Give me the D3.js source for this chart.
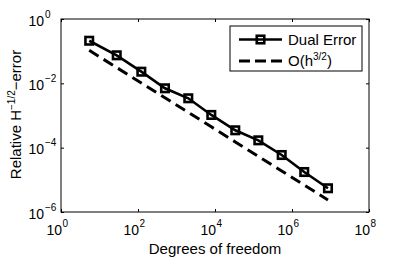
<html lang="en">
  <head>
    <meta charset="utf-8">
    <title>Dual error convergence</title>
    <script src="https://d3js.org/d3.v7.min.js"></script>
    <style>
      body { margin: 0; background: #fff; overflow: hidden; }
      svg { display: block; }
      text { font-family: "Liberation Sans", Arial, Helvetica, sans-serif; fill: #000; }
    </style>
  </head>
  <body>
    <script type="text/javascript">
      var w = 407;
      var h = 259;
      var margin = {top: 19, right: 38, bottom: 47, left: 61};
      var innerWidth = w - margin.left - margin.right;
      var innerHeight = h - margin.top - margin.bottom;

      // degrees of freedom (x) and relative error (y)
      var dofs = [5.4, 28, 122, 502, 2024, 8017, 33650, 133400, 540000, 2.08e6, 8.6e6];
      var dualError = [0.211, 0.0744, 0.0230, 0.00701, 0.00343, 0.00104, 3.47e-4, 1.69e-4, 5.91e-5, 1.75e-5, 5.47e-6];
      var refRate = [0.106, 0.0309, 0.01026, 0.00354, 0.00125, 4.44e-4, 1.51e-4, 5.38e-5, 1.89e-5, 6.85e-6, 2.37e-6];
      var xTickExps = [0, 2, 4, 6, 8];
      var yTickExps = [-6, -4, -2, 0];

      var xScale = d3.scaleLog().domain([1, 1e8]).range([0, innerWidth]);
      var yScale = d3.scaleLog().domain([1e-6, 1]).range([innerHeight, 0]);

      var svg = d3.select("body").append("svg")
          .attr("width", w)
          .attr("height", h);
      var g = svg.append("g")
          .attr("transform", `translate(${margin.left},${margin.top})`);

      // ticks inside, on all four sides (matlab box)
      var xTicks = xTickExps.map(function(e) { return Math.pow(10, e); });
      var yTicks = yTickExps.map(function(e) { return Math.pow(10, e); });
      var tl = 3;
      g.append("g").call(d3.axisBottom(xScale).tickValues(xTicks).tickSizeInner(-tl).tickSizeOuter(0).tickFormat(""))
          .attr("transform", `translate(0,${innerHeight})`);
      g.append("g").call(d3.axisTop(xScale).tickValues(xTicks).tickSizeInner(-tl).tickSizeOuter(0).tickFormat(""));
      g.append("g").call(d3.axisLeft(yScale).tickValues(yTicks).tickSizeInner(-tl).tickSizeOuter(0).tickFormat(""));
      g.append("g").call(d3.axisRight(yScale).tickValues(yTicks).tickSizeInner(-tl).tickSizeOuter(0).tickFormat(""))
          .attr("transform", `translate(${innerWidth},0)`);
      g.selectAll(".domain").remove();
      g.selectAll(".tick line").attr("stroke", "#000");

      g.append("rect")
          .attr("width", innerWidth)
          .attr("height", innerHeight)
          .attr("fill", "none")
          .attr("stroke", "#000")
          .attr("stroke-width", 1);

      // tick labels 10^n
      xTickExps.forEach(function(e) {
        var x = xScale(Math.pow(10, e));
        g.append("text").attr("x", x + 1).attr("y", innerHeight + 23)
            .attr("text-anchor", "end").style("font-size", "14px").text("10");
        g.append("text").attr("x", x + 1.5).attr("y", innerHeight + 15)
            .style("font-size", "10px").text(e);
      });
      yTickExps.forEach(function(e) {
        var y = yScale(Math.pow(10, e));
        g.append("text").attr("x", -17).attr("y", y + 6.5)
            .attr("text-anchor", "end").style("font-size", "14px").text("10");
        g.append("text").attr("x", -16).attr("y", y - 1.5)
            .style("font-size", "10px").text(String(e).replace("-", "\u2212"));
      });

      // axis labels
      svg.append("text")
          .attr("x", margin.left + innerWidth / 2)
          .attr("y", 254)
          .attr("text-anchor", "middle")
          .style("font-size", "15px")
          .text("Degrees of freedom");
      var yl = svg.append("text")
          .attr("transform", `translate(20.5,${margin.top + innerHeight / 2 - 1}) rotate(-90)`)
          .attr("text-anchor", "middle")
          .style("font-size", "15px");
      yl.append("tspan").text("Relative H");
      yl.append("tspan").attr("dy", -6).style("font-size", "10px").text("\u22121/2");
      yl.append("tspan").attr("dy", 6).text("\u2212error");

      // lines
      var pts = dofs.map(function(d, i) { return {x: d, y: dualError[i], r: refRate[i]}; });
      var lineErr = d3.line().x(function(d) { return xScale(d.x); }).y(function(d) { return yScale(d.y); });
      var lineRef = d3.line().x(function(d) { return xScale(d.x); }).y(function(d) { return yScale(d.r); });

      g.append("path").datum(pts).attr("d", lineRef)
          .attr("fill", "none").attr("stroke", "#000")
          .attr("stroke-width", 3).attr("stroke-dasharray", "11,6");
      g.append("path").datum(pts).attr("d", lineErr)
          .attr("fill", "none").attr("stroke", "#000").attr("stroke-width", 2.6);
      var ms = 7.5;
      g.selectAll("rect.mk").data(pts).enter().append("rect")
          .attr("class", "mk")
          .attr("x", function(d) { return xScale(d.x) - ms / 2; })
          .attr("y", function(d) { return yScale(d.y) - ms / 2; })
          .attr("width", ms).attr("height", ms)
          .attr("fill", "none").attr("stroke", "#000").attr("stroke-width", 2.6);

      // legend
      var lg = svg.append("g");
      lg.append("rect").attr("x", 230).attr("y", 26).attr("width", 132).attr("height", 45)
          .attr("fill", "#fff").attr("stroke", "#000").attr("stroke-width", 1);
      lg.append("line").attr("x1", 239).attr("x2", 282).attr("y1", 39.5).attr("y2", 39.5)
          .attr("stroke", "#000").attr("stroke-width", 2.6);
      lg.append("rect").attr("x", 260.5 - ms / 2).attr("y", 39.5 - ms / 2).attr("width", ms).attr("height", ms)
          .attr("fill", "none").attr("stroke", "#000").attr("stroke-width", 2.6);
      lg.append("text").attr("x", 288).attr("y", 44.5).style("font-size", "15px").text("Dual Error");
      lg.append("line").attr("x1", 239).attr("x2", 282).attr("y1", 61).attr("y2", 61)
          .attr("stroke", "#000").attr("stroke-width", 3).attr("stroke-dasharray", "11,5");
      var t2 = lg.append("text").attr("x", 288).attr("y", 66).style("font-size", "15px");
      t2.append("tspan").text("O(h");
      t2.append("tspan").attr("dy", -6).style("font-size", "10px").text("3/2");
      t2.append("tspan").attr("dy", 6).text(")");
    </script>
  </body>
</html>
